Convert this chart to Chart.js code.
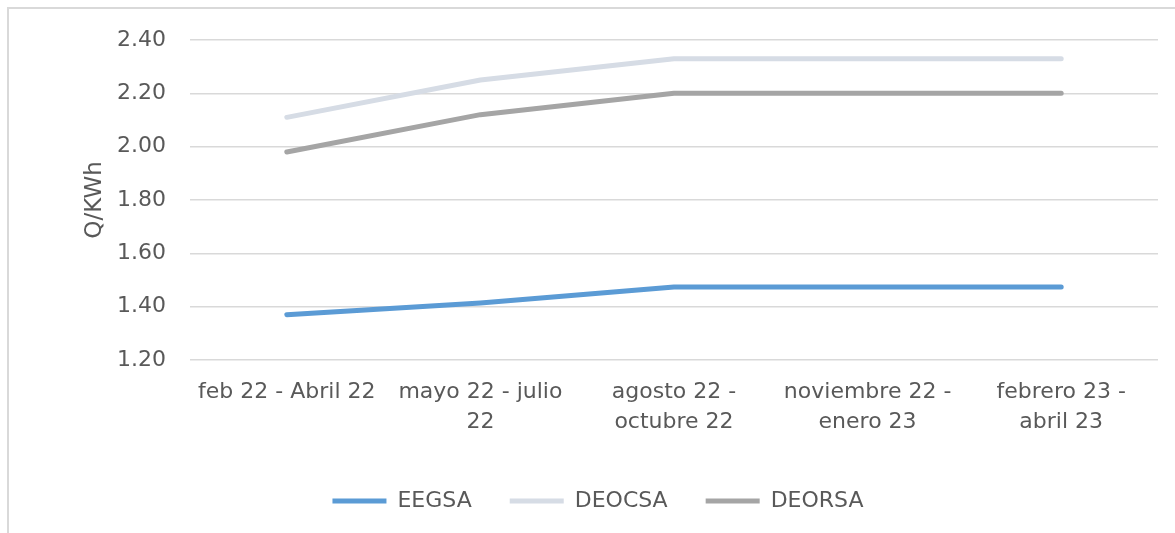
<!DOCTYPE html>
<html>
<head>
<meta charset="utf-8">
<script src="https://cdn.jsdelivr.net/npm/chart.js@4"></script>
<style>
  html, body { margin: 0; padding: 0; background: #fff; overflow: hidden; }
  #frame { position: absolute; left: 7px; top: 7px; width: 1200px; height: 600px; border: 2px solid #d9d9d9; }
  #wrap { position: absolute; left: 0; top: 0; width: 1175px; height: 533px; }
</style>
</head>
<body>
<div id="frame"></div>
<div id="wrap"><canvas id="myChart"></canvas></div>
<script>
// periods on the x axis (wrapped like the original)
const periods = [
  'feb 22 - Abril 22',
  ['mayo 22 - julio', '22'],
  ['agosto 22 -', 'octubre 22'],
  ['noviembre 22 -', 'enero 23'],
  ['febrero 23 -', 'abril 23']
];
const eegsa = [1.37, 1.414, 1.474, 1.474, 1.474];
const deocsa = [2.11, 2.25, 2.33, 2.33, 2.33];
const deorsa = [1.98, 2.12, 2.20, 2.20, 2.20];

const TEXT = '#595959';
const FONT = "'DejaVu Sans', sans-serif";

function line(label, data, color) {
  return {
    label: label,
    data: data,
    borderColor: color,
    backgroundColor: color,
    borderWidth: 5,
    borderCapStyle: 'round',
    borderJoinStyle: 'round',
    pointRadius: 0,
    pointHoverRadius: 0,
    pointStyle: 'line',
    tension: 0,
  };
}

const config = {
  type: 'line',
  data: {
    labels: periods,
    datasets: [
      line('EEGSA', eegsa, '#5b9bd5'),
      line('DEOCSA', deocsa, '#d6dce5'),
      line('DEORSA', deorsa, '#a5a5a5'),
    ],
  },
  options: {
    responsive: true,
    maintainAspectRatio: false,
    animation: false,
    layout: { padding: { left: 38, top: 40, right: 17, bottom: 11 } },
    scales: {
      x: {
        offset: true,
        grid: { display: false },
        border: { display: false },
        ticks: { color: TEXT, font: { family: FONT, size: 22, lineHeight: 1.36 }, maxRotation: 0, autoSkip: false, padding: 9 },
        afterFit: (s) => { s.height = 92; },
      },
      y: {
        min: 1.2,
        max: 2.4,
        grid: { color: '#d9d9d9', lineWidth: 1.5, drawTicks: false },
        border: { display: false },
        ticks: {
          stepSize: 0.2,
          padding: 24,
          color: TEXT,
          font: { family: FONT, size: 22 },
          callback: (v) => v.toFixed(2),
        },
        title: { display: true, text: 'Q/KWh', color: TEXT, font: { family: FONT, size: 23 }, padding: { top: 43, bottom: 4 } },
        afterFit: (s) => { s.width = 152; },
      },
    },
    plugins: {
      legend: {
        position: 'bottom',
        labels: {
          usePointStyle: true,
          pointStyleWidth: 54,
          color: TEXT,
          font: { family: FONT, size: 22 },
          padding: 38,
        },
      },
      tooltip: { enabled: false },
    },
  },
};

const ctx = document.getElementById('myChart').getContext('2d');
const myChart = new Chart(ctx, config);
</script>
</body>
</html>
